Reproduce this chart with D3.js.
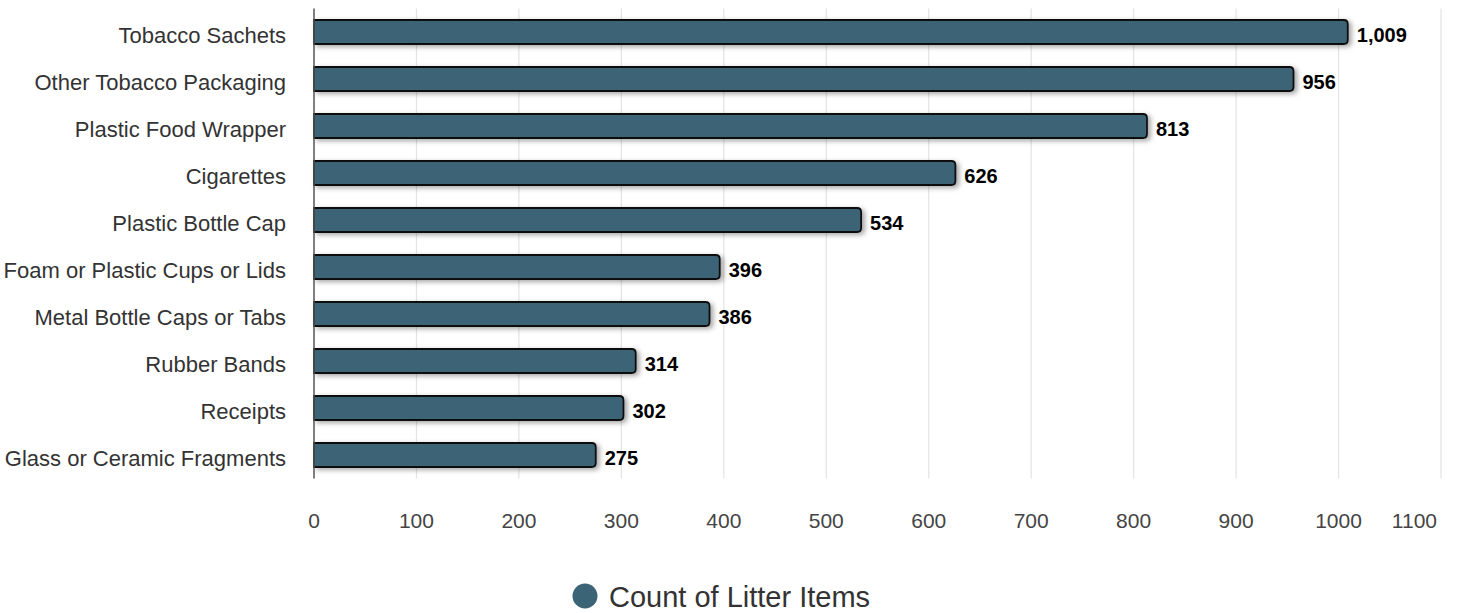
<!DOCTYPE html>
<html><head><meta charset="utf-8">
<script src="https://cdn.jsdelivr.net/npm/d3@7"></script>
<style>body{margin:0;background:#fff;font-family:"Liberation Sans",Arial,Helvetica,sans-serif;}</style>
</head><body><svg id="c" width="1457" height="613"></svg>
<script>
const categories = ["Tobacco Sachets","Other Tobacco Packaging","Plastic Food Wrapper","Cigarettes","Plastic Bottle Cap","Foam or Plastic Cups or Lids","Metal Bottle Caps or Tabs","Rubber Bands","Receipts","Glass or Ceramic Fragments"];
const values = [1009,956,813,626,534,396,386,314,302,275];
const xTicks = [0,100,200,300,400,500,600,700,800,900,1000,1100];
const seriesName = "Count of Litter Items";

(function(){
const svg = d3.select("#c");
const pLeft = 314, pRight = 1441, pTop = 8.5, pBottom = 478.5;
const x = d3.scaleLinear().domain([0,1100]).range([pLeft,pRight]);
const y = d3.scaleBand().domain(categories).range([pTop,pBottom]).paddingInner(0.49).paddingOuter(0.245);
const color = "#3c6477";

const defs = svg.append("defs");
const f = defs.append("filter").attr("id","sh").attr("x","-5%").attr("y","-50%").attr("width","115%").attr("height","220%");
f.append("feDropShadow").attr("dx",3).attr("dy",2).attr("stdDeviation",2.5).attr("flood-color","#000").attr("flood-opacity",0.35);

// grid
svg.append("g").selectAll("line").data(xTicks.slice(1)).join("line")
  .attr("x1",d=>x(d)).attr("x2",d=>x(d)).attr("y1",pTop).attr("y2",pBottom)
  .attr("stroke","#e3e3e3").attr("stroke-width",1.2);

// tick labels
svg.append("g").selectAll("text").data(xTicks).join("text")
  .attr("x",(d,i)=> i===xTicks.length-1 ? x(d)-4 : x(d))
  .attr("y",528)
  .attr("text-anchor",(d,i)=> i===xTicks.length-1 ? "end" : "middle")
  .attr("font-size",21).attr("fill","#444").text(d=>d);

// bars
const r = 4;
function barPath(d,i){
  const x0 = x(0), x1 = x(d), y0 = y(categories[i]), h = y.bandwidth();
  return `M${x0},${y0} H${x1-r} Q${x1},${y0} ${x1},${y0+r} V${y0+h-r} Q${x1},${y0+h} ${x1-r},${y0+h} H${x0} Z`;
}
svg.append("g").selectAll("path").data(values).join("path")
  .attr("d",barPath).attr("fill",color).attr("stroke","#111").attr("stroke-width",1.8)
  .attr("filter","url(#sh)");

// axis line
svg.append("line").attr("x1",pLeft).attr("x2",pLeft).attr("y1",pTop).attr("y2",pBottom)
  .attr("stroke","#555").attr("stroke-width",1.5);

// category labels
svg.append("g").selectAll("text").data(categories).join("text")
  .attr("x",286).attr("y",d=>y(d)+y.bandwidth()/2+11)
  .attr("text-anchor","end").attr("font-size",22).attr("fill","#333").text(d=>d);

// value labels
const fmt = d3.format(",");
svg.append("g").selectAll("text").data(values).join("text")
  .attr("x",d=>x(d)+9).attr("y",(d,i)=>y(categories[i])+y.bandwidth()/2+9.5)
  .attr("font-size",20).attr("font-weight","bold").attr("fill","#000").text(d=>fmt(d));

// legend
svg.append("circle").attr("cx",585).attr("cy",596).attr("r",12.5).attr("fill",color);
svg.append("text").attr("x",609).attr("y",607).attr("font-size",29).attr("fill","#333").text(seriesName);
})();
</script></body></html>
